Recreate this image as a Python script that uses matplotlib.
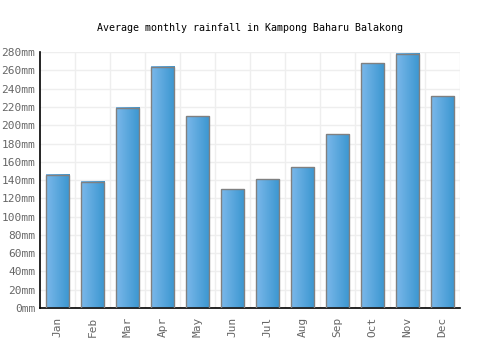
import matplotlib
matplotlib.use('Agg')
from matplotlib import pyplot as plt
from matplotlib.colors import LinearSegmentedColormap
import numpy as np

months = ['Jan', 'Feb', 'Mar', 'Apr', 'May', 'Jun', 'Jul', 'Aug', 'Sep', 'Oct', 'Nov', 'Dec']
rainfall = [146, 138, 219, 264, 210, 130, 141, 154, 190, 268, 278, 232]
yticks = list(range(0, 281, 20))
ylabels = ['%dmm' % v for v in yticks]

fig = plt.figure(figsize=(5, 3.5), dpi=100)
ax = fig.add_axes([0.08, 0.12, 0.84, 0.731])

mono = 'DejaVu Sans Mono'
grad = LinearSegmentedColormap.from_list('bar', ['#7bb8ea', '#3a96d0'])
g = np.linspace(0, 1, 64).reshape(1, -1)
width = 0.68

for i, v in enumerate(rainfall):
    x0 = i - width / 2
    ax.imshow(g, cmap=grad, extent=[x0, x0 + width, 0, v], aspect='auto', zorder=2)
ax.bar(range(len(months)), rainfall, width=width, facecolor='none',
       edgecolor='#808080', linewidth=1.0, zorder=3)

ax.set_xlim(-0.5, 11.5)
ax.set_ylim(0, 280)
ax.set_yticks(yticks)
ax.set_yticklabels(ylabels, fontfamily=mono, fontsize=8, color='#666666')
ax.set_xticks(range(len(months)))
ax.set_xticklabels(months, rotation=90, fontfamily=mono, fontsize=8, color='#666666')
ax.set_xticks(np.arange(0.5, 12, 1), minor=True)
ax.tick_params(axis='both', which='both', length=0)
ax.tick_params(axis='x', pad=6)

ax.grid(axis='y', which='major', color='#eeeeee', linewidth=1, zorder=0)
ax.grid(axis='x', which='minor', color='#eeeeee', linewidth=1, zorder=0)
ax.set_axisbelow(True)

for s in ['top', 'right']:
    ax.spines[s].set_visible(False)
ax.spines['left'].set_color('black')
ax.spines['bottom'].set_color('black')
ax.spines['left'].set_linewidth(1.2)
ax.spines['bottom'].set_linewidth(1.2)

fig.text(0.5, 0.92, 'Average monthly rainfall in Kampong Baharu Balakong',
         ha='center', va='center', fontfamily=mono, fontsize=7.2)

fig.savefig('out.png', dpi=100)
